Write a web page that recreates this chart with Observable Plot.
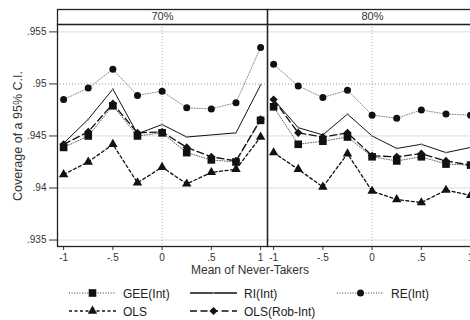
<!DOCTYPE html>
<html><head><meta charset="utf-8">
<script src="https://cdn.jsdelivr.net/npm/d3@7"></script>
<script src="https://cdn.jsdelivr.net/npm/@observablehq/plot@0.6"></script>
<style>
html,body{margin:0;padding:0;background:#fff;overflow:hidden}
#wrap{position:relative;width:470px;height:320px;overflow:hidden;font-family:"Liberation Sans",Arial,sans-serif;background:#fff}
#overlay{position:absolute;left:0;top:0;pointer-events:none}
</style></head><body><div id="wrap"></div>
<script>
// ---- data ----
const xValues = [-1, -0.75, -0.5, -0.25, 0, 0.25, 0.5, 0.75, 1];
const panels = ["70%", "80%"];
const seriesNames = ["GEE(Int)", "RI(Int)", "RE(Int)", "OLS", "OLS(Rob-Int)"];
const xTicks = [-1, -0.5, 0, 0.5, 1];
const yTicks = [0.935, 0.94, 0.945, 0.95, 0.955];
const gridY = [0.935, 0.94, 0.945, 0.955];
const refY = [0.95];
const refX = [0];

const gee70 = [0.9439, 0.9450, 0.9479, 0.9450, 0.9453, 0.9434, 0.9427, 0.9425, 0.9465];
const ri70  = [0.9443, 0.9466, 0.9495, 0.9452, 0.9461, 0.9449, 0.9451, 0.9453, 0.9499];
const re70  = [0.9485, 0.9496, 0.9514, 0.9489, 0.9493, 0.9477, 0.9476, 0.9482, 0.9535];
const ols70 = [0.9413, 0.9425, 0.9442, 0.9405, 0.9420, 0.9404, 0.9415, 0.9418, 0.9449];
const rob70 = [0.9442, 0.9454, 0.9481, 0.9453, 0.9454, 0.9439, 0.9430, 0.9426, 0.9466];

const gee80 = [0.9478, 0.9442, 0.9445, 0.9449, 0.9430, 0.9426, 0.9430, 0.9423, 0.9422];
const ri80  = [0.9485, 0.9458, 0.9451, 0.9471, 0.9450, 0.9438, 0.9442, 0.9434, 0.9439];
const re80  = [0.9519, 0.9498, 0.9487, 0.9494, 0.9470, 0.9467, 0.9475, 0.9471, 0.9470];
const ols80 = [0.9434, 0.9418, 0.9401, 0.9433, 0.9397, 0.9389, 0.9386, 0.9398, 0.9393];
const rob80 = [0.9485, 0.9453, 0.9449, 0.9453, 0.9431, 0.9430, 0.9433, 0.9426, 0.9422];

const valuesBy = {
  "70%": {"GEE(Int)": gee70, "RI(Int)": ri70, "RE(Int)": re70, "OLS": ols70, "OLS(Rob-Int)": rob70},
  "80%": {"GEE(Int)": gee80, "RI(Int)": ri80, "RE(Int)": re80, "OLS": ols80, "OLS(Rob-Int)": rob80}
};

// ---- styles ----
const styles = {
  "GEE(Int)":     {stroke: "#666", width: 1,   dash: "1,1.6", symbol: "square",   r: 4.3, fill: "#111"},
  "RI(Int)":      {stroke: "#111", width: 1,   dash: null,    symbol: "circle",   r: 1.1, fill: "#888"},
  "RE(Int)":      {stroke: "#888", width: 1,   dash: "1,1.6", symbol: "circle",   r: 3.5, fill: "#111"},
  "OLS":          {stroke: "#111", width: 1.3, dash: "3,2.5", symbol: "triangle", r: 3.5, fill: "#111"},
  "OLS(Rob-Int)": {stroke: "#111", width: 1.3, dash: "7,3.5", symbol: "diamond2", r: 3.7, fill: "#111"}
};

const rows = [];
for (const p of panels) for (const s of seriesNames) {
  valuesBy[p][s].forEach((v, i) => rows.push({panel: p, series: s, x: xValues[i], y: v}));
}

const fmt = d => (d === 0 ? "0" : (d < 0 ? "-" : "") + String(Math.abs(d)).replace(/^0\./, "."));

const lineMarks = seriesNames.map(s => Plot.line(rows.filter(d => d.series === s), {
  x: "x", y: "y", fx: "panel", stroke: styles[s].stroke, strokeWidth: styles[s].width,
  strokeDasharray: styles[s].dash
}));
const dotMarks = seriesNames.map(s => Plot.dot(rows.filter(d => d.series === s), {
  x: "x", y: "y", fx: "panel", symbol: () => styles[s].symbol, r: styles[s].r,
  fill: styles[s].fill, stroke: "none"
}));

const W = 478, H = 280, MT = 24, MB = 34;
const chart = Plot.plot({
  width: W, height: H,
  marginLeft: 57, marginRight: 1, marginTop: MT, marginBottom: MB,
  style: {fontFamily: '"Liberation Sans", Arial, sans-serif', fontSize: "10px", color: "#333",
          maxWidth: "none", background: "transparent", overflow: "visible"},
  fx: {domain: panels, padding: 0, axis: "top", tickSize: 0, tickPadding: 5, label: null, fontSize: 11},
  x: {domain: [-1.062, 1.07], ticks: xTicks, tickFormat: fmt, tickSize: 4, tickPadding: 3, label: null},
  y: {domain: [0.93438, 0.95571], ticks: yTicks, tickFormat: fmt, tickSize: 8, tickPadding: 3, label: null},
  symbol: {type: "identity"},
  marks: [
    Plot.ruleY(gridY, {stroke: "#dcdcdc", strokeWidth: 1}),
    Plot.ruleY(refY, {stroke: "#999", strokeDasharray: "1,2"}),
    Plot.ruleX(refX, {stroke: "#aaa", strokeDasharray: "1,2"}),
    ...lineMarks,
    ...dotMarks,
    Plot.frame({stroke: "#222", strokeWidth: 1.3}),
    Plot.frame({stroke: "#222", strokeWidth: 1.3, insetTop: -15, insetBottom: H - MT - MB})
  ]
});
const wrap = document.getElementById("wrap");
wrap.appendChild(chart);
// larger facet header labels
chart.querySelectorAll('[aria-label="fx-axis tick label"] text, [aria-label="fx-axis tick label"]').forEach(n => n.setAttribute("font-size", "11"));

// ---- overlay: axis titles and legend ----
const svg = d3.select(wrap).append("svg").attr("id", "overlay")
  .attr("width", 470).attr("height", 320)
  .style("font-family", '"Liberation Sans", Arial, sans-serif');

svg.append("text").attr("transform", "translate(22,136) rotate(-90)")
  .attr("text-anchor", "middle").attr("font-size", 12.5).attr("fill", "#333")
  .text("Coverage of a 95% C.I.");
svg.append("text").attr("x", 250).attr("y", 274)
  .attr("text-anchor", "middle").attr("font-size", 12).attr("fill", "#333")
  .text("Mean of Never-Takers");

const legendPos = {
  "GEE(Int)": [69, 293], "RI(Int)": [190, 293], "RE(Int)": [337, 293],
  "OLS": [69, 311], "OLS(Rob-Int)": [190, 311]
};
const symMap = {square: d3.symbolSquare, circle: d3.symbolCircle, triangle: d3.symbolTriangle, diamond2: d3.symbolDiamond2};
for (const s of seriesNames) {
  const [x0, y0] = legendPos[s];
  const st = styles[s];
  const g = svg.append("g");
  g.append("line").attr("x1", x0).attr("x2", x0 + 47).attr("y1", y0).attr("y2", y0)
    .attr("stroke", s === "RE(Int)" || s === "GEE(Int)" ? "#333" : st.stroke)
    .attr("stroke-width", s === "RI(Int)" ? 1.5 : st.width)
    .attr("stroke-dasharray", st.dash);
  g.append("path").attr("transform", `translate(${x0 + 23.5},${y0})`)
    .attr("d", d3.symbol(symMap[st.symbol], Math.PI * st.r * st.r)())
    .attr("fill", st.fill);
  g.append("text").attr("x", x0 + 54).attr("y", y0 + 4.5).attr("font-size", 12).attr("fill", "#222").text(s);
}
</script></body></html>
